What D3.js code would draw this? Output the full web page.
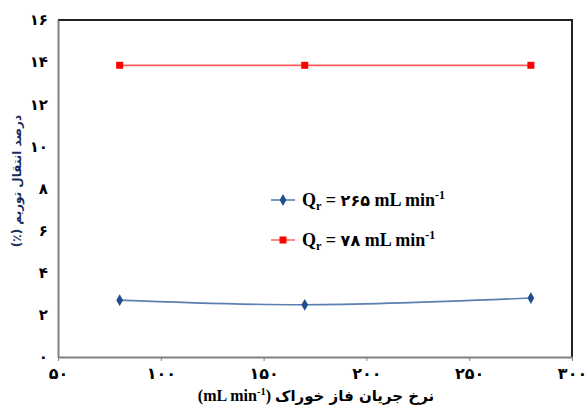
<!DOCTYPE html>
<html>
<head>
<meta charset="utf-8">
<script src="https://cdn.jsdelivr.net/npm/d3@7"></script>
<style>
  html, body { margin: 0; padding: 0; background: #fff; }
  svg { display: block; }
</style>
</head>
<body>
<svg id="chart" width="586" height="410"></svg>
<script>
// Feed flow rate (mL/min) and thorium transfer percentage
const flowRates = [80, 170, 280];
const transferHighQr = [2.7, 2.48, 2.8];   // Qr = 265 mL/min
const transferLowQr = [13.85, 13.85, 13.85]; // Qr = 78 mL/min

const xTicks = [50, 100, 150, 200, 250, 300];
const yTicks = [0, 2, 4, 6, 8, 10, 12, 14, 16];

const seriesNames = ["۲۶۵", "۷۸"];
const yTitle = "درصد انتقال توریم (٪)";
const xTitle = "نرخ جریان فاز خوراک";

const faDigits = n => String(n).replace(/\d/g, d => "۰۱۲۳۴۵۶۷۸۹"[+d]);

const svg = d3.select("#chart");
const m = { left: 58, right: 572, top: 20, bottom: 357 };

const x = d3.scaleLinear().domain([50, 300]).range([m.left, m.right]);
const y = d3.scaleLinear().domain([0, 16]).range([m.bottom, m.top]);

const serif = "'Liberation Serif', 'DejaVu Serif', 'Times New Roman', serif";
const labelFont = "'DejaVu Sans', 'Noto Sans', sans-serif";

// Plot frame: gray left/bottom, dark top/right
svg.append("line").attr("x1", m.left).attr("x2", m.right).attr("y1", m.top).attr("y2", m.top)
  .attr("stroke", "#222").attr("stroke-width", 2);
svg.append("line").attr("x1", m.right).attr("x2", m.right).attr("y1", m.top - 1).attr("y2", m.bottom)
  .attr("stroke", "#222").attr("stroke-width", 2);

// X axis
const xAxis = svg.append("g").attr("transform", `translate(0,${m.bottom})`)
  .call(d3.axisBottom(x).tickValues(xTicks).tickSize(4).tickSizeOuter(0).tickFormat(faDigits));
xAxis.select(".domain").attr("stroke", "#808080").attr("stroke-width", 2);
xAxis.selectAll(".tick line").attr("stroke", "#808080").attr("stroke-width", 1);
xAxis.selectAll(".tick text").attr("fill", "#000").attr("font-family", labelFont)
  .attr("font-weight", "bold").attr("font-size", 16).attr("dy", "0.95em");

// Y axis
const yAxis = svg.append("g").attr("transform", `translate(${m.left},0)`)
  .call(d3.axisLeft(y).tickValues(yTicks).tickSize(0).tickSizeOuter(0).tickPadding(10).tickFormat(faDigits));
yAxis.select(".domain").attr("stroke", "#808080").attr("stroke-width", 2);
yAxis.selectAll(".tick text").attr("fill", "#000").attr("font-family", labelFont)
  .attr("font-weight", "bold").attr("font-size", 15);

// Lines
const line = d3.line().x((d, i) => x(flowRates[i])).y(d => y(d)).curve(d3.curveCatmullRom.alpha(0.5));

svg.append("path").datum(transferLowQr).attr("d", line)
  .attr("fill", "none").attr("stroke", "#ff5a5a").attr("stroke-width", 1.8);
svg.append("path").datum(transferHighQr).attr("d", line)
  .attr("fill", "none").attr("stroke", "#5b7fae").attr("stroke-width", 1.6);

// Markers
const diamond = d3.symbol().type(d3.symbolDiamond).size(40);
svg.selectAll(".m-blue").data(transferHighQr).join("path")
  .attr("transform", (d, i) => `translate(${x(flowRates[i])},${y(d)})`)
  .attr("d", diamond).attr("fill", "#1f4e8c");
svg.selectAll(".m-red").data(transferLowQr).join("rect")
  .attr("x", (d, i) => x(flowRates[i]) - 3.5).attr("y", d => y(d) - 3.5)
  .attr("width", 7).attr("height", 7).attr("fill", "#ff0000");

// Legend
const legend = [
  { name: seriesNames[0], color: "#5b7fae", mark: "#1f4e8c", shape: "diamond", y: 200 },
  { name: seriesNames[1], color: "#ff6b6b", mark: "#ff0000", shape: "square", y: 240 }
];
legend.forEach(l => {
  const g = svg.append("g");
  g.append("line").attr("x1", 271).attr("x2", 295).attr("y1", l.y).attr("y2", l.y)
    .attr("stroke", l.color).attr("stroke-width", 1.6);
  if (l.shape === "diamond") {
    g.append("path").attr("transform", `translate(283,${l.y})`).attr("d", diamond).attr("fill", l.mark);
  } else {
    g.append("rect").attr("x", 279.5).attr("y", l.y - 3.5).attr("width", 7).attr("height", 7).attr("fill", l.mark);
  }
  const t = g.append("text").attr("x", 302).attr("y", l.y + 6)
    .attr("font-family", serif).attr("font-weight", "bold").attr("font-size", 18).attr("fill", "#000");
  t.append("tspan").text("Q");
  t.append("tspan").attr("font-size", 12).attr("dy", 4).text("r");
  t.append("tspan").attr("dy", -4).text(" = ");
  t.append("tspan").attr("font-family", labelFont).attr("font-size", 16).text(l.name);
  t.append("tspan").text(" mL min");
  t.append("tspan").attr("font-size", 12).attr("dy", -7).text("-1");
});

// Y-axis title (right-to-left paragraph)
svg.append("text")
  .attr("transform", "translate(21,181) rotate(-90)")
  .attr("text-anchor", "middle")
  .attr("direction", "rtl")
  .style("direction", "rtl")
  .attr("font-family", labelFont).attr("font-weight", "bold").attr("font-size", 12)
  .attr("fill", "#1c2b5a")
  .text(yTitle);

// X-axis title, composed from separate pieces laid out left to right
const xt = svg.append("g");
const baseY = 401;
const parts = [
  { text: "(mL min", font: serif, size: 16, dy: 0, gap: 0 },
  { text: "-1", font: serif, size: 10.5, dy: -6, gap: 0 },
  { text: ")", font: serif, size: 16, dy: 0, gap: 4 },
  { text: xTitle, font: labelFont, size: 15, dy: 0, gap: 0 }
];
const nodes = parts.map((p, i) => {
  const n = xt.append("text")
    .attr("y", baseY + p.dy).attr("font-family", p.font).attr("font-weight", "bold")
    .attr("font-size", p.size).attr("fill", "#000").attr("text-anchor", "start");
  return n.text(p.text);
});
const widths = nodes.map((n, i) => n.node().getComputedTextLength() + parts[i].gap);
let cx = 316 - d3.sum(widths) / 2;
nodes.forEach((n, i) => { n.attr("x", cx); cx += widths[i]; });
</script>
</body>
</html>
